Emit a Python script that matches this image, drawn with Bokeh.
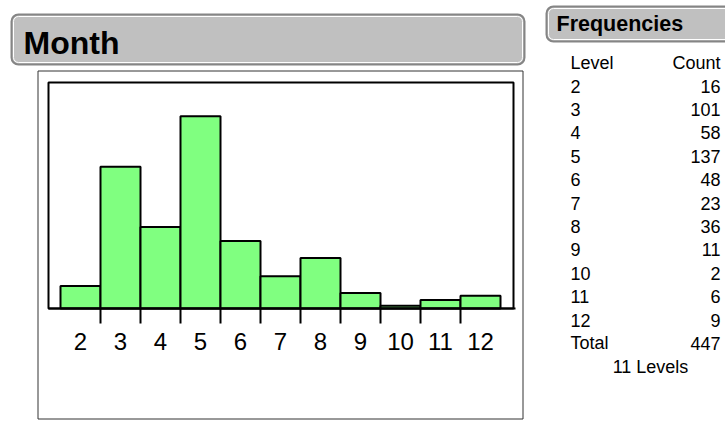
from bokeh.plotting import figure
from bokeh.models import BoxAnnotation, Label, FixedTicker, Range1d, ColumnDataSource, LinearAxis
from bokeh.embed import file_html
from bokeh.resources import INLINE

# ---- data ----
levels = [2, 3, 4, 5, 6, 7, 8, 9, 10, 11, 12]
counts = [16, 101, 58, 137, 48, 23, 36, 11, 2, 6, 9]
tick_labels = ["2", "3", "4", "5", "6", "7", "8", "9", "10", "11", "12"]
chart_title = "Month"
panel_title = "Frequencies"
col_headers = ["Level", "Count"]
total_label = "Total"

FONT = "Liberation Sans"
W, H = 725, 421
OX, OY = 0, 0          # page offset of the canvas

# histogram geometry (page px): 40 px per level, baseline at 308, ~1.404 px per count
PX_PER_LEVEL = 40.0
PX_PER_COUNT = 226.0 / 161.0
LEVEL2_PX = 80.0
BASE_PX = 308.0
x0 = levels[0] - (LEVEL2_PX - OX) / PX_PER_LEVEL
y0 = -(OY + H - BASE_PX) / PX_PER_COUNT
XLO, XHI, YHI = 1.2, 12.825, 161.0   # histogram box in data units


def sx(px):
    return px - OX


def sy(py):
    return OY + H - py


def ty(py, fs):
    # Label baseline correction (rendered text sits ~0.3 em lower)
    return sy(py - 0.3 * fs)


p = figure(width=W, height=H, output_backend="svg", toolbar_location=None, tools="",
           x_range=Range1d(x0, x0 + W / PX_PER_LEVEL),
           y_range=Range1d(y0, y0 + H / PX_PER_COUNT),
           min_border=0, x_axis_location=None, y_axis_location=None)
p.grid.visible = False
p.outline_line_color = None
p.background_fill_color = "white"
p.border_fill_color = "white"

# outer thin frame around the chart
p.add_layout(BoxAnnotation(left=sx(37.5), right=sx(522.5), top=sy(70.5), bottom=sy(418.5),
                           left_units="screen", right_units="screen",
                           top_units="screen", bottom_units="screen",
                           fill_alpha=0, line_color="#333333", line_alpha=1, line_width=1))

src = ColumnDataSource(dict(x=levels, top=counts))
p.vbar(x="x", top="top", bottom=0, width=1, source=src,
       fill_color="#80ff80", line_color="black", line_width=2)

# histogram box
p.add_layout(BoxAnnotation(left=XLO, right=XHI, bottom=0, top=YHI,
                           fill_alpha=0, line_color="black", line_alpha=1, line_width=2))

ax = LinearAxis(fixed_location=0, bounds=(XLO, XHI + 0.05))
ax.ticker = FixedTicker(ticks=levels, minor_ticks=[v + 0.5 for v in levels[:-1]])
ax.major_label_overrides = {v: s for v, s in zip(levels, tick_labels)}
ax.major_tick_line_color = None
ax.major_tick_out = 0
ax.major_tick_in = 0
ax.minor_tick_out = 15
ax.minor_tick_in = 0
ax.minor_tick_line_color = "black"
ax.minor_tick_line_width = 2
ax.axis_line_color = "black"
ax.axis_line_width = 2
ax.major_label_standoff = 9
ax.major_label_text_font = FONT
ax.major_label_text_font_size = "24px"
ax.major_label_text_color = "black"
p.add_layout(ax, "below")


# title bars
def header_box(a, b, c, d):
    p.add_layout(BoxAnnotation(left=sx(a), right=sx(b), top=sy(c), bottom=sy(d),
                               left_units="screen", right_units="screen",
                               top_units="screen", bottom_units="screen",
                               fill_color="#c0c0c0", fill_alpha=1,
                               line_color="#858585", line_alpha=1, line_width=2, border_radius=7))
    p.add_layout(BoxAnnotation(left=sx(a + 2), right=sx(b - 2), top=sy(c + 2), bottom=sy(d - 2),
                               left_units="screen", right_units="screen",
                               top_units="screen", bottom_units="screen",
                               fill_alpha=0, line_color="white", line_alpha=1, line_width=1,
                               border_radius=5))


header_box(11, 524, 14, 64)
header_box(546, 760, 6, 41)

p.add_layout(Label(x=sx(23), y=ty(52, 32), x_units="screen", y_units="screen", text=chart_title,
                   text_font=FONT, text_font_style="bold", text_font_size="32px",
                   text_baseline="alphabetic", text_align="left", text_color="black"))
p.add_layout(Label(x=sx(556), y=ty(30, 21.5), x_units="screen", y_units="screen", text=panel_title,
                   text_font=FONT, text_font_style="bold", text_font_size="21.5px",
                   text_baseline="alphabetic", text_align="left", text_color="black"))

# frequency table
TFS = 18
ROW0, DY = 67.5, 23.4
LX, RX = 570, 720
rows = [(col_headers[0], col_headers[1])] + [(s, str(c)) for s, c in zip(tick_labels, counts)] \
       + [(total_label, str(sum(counts)))]
for i, (a, b) in enumerate(rows):
    by = ROW0 + i * DY
    p.add_layout(Label(x=sx(LX), y=ty(by, TFS), x_units="screen", y_units="screen", text=a,
                       text_font=FONT, text_font_size=f"{TFS}px", text_baseline="alphabetic",
                       text_align="left", text_color="black"))
    p.add_layout(Label(x=sx(RX), y=ty(by, TFS), x_units="screen", y_units="screen", text=b,
                       text_font=FONT, text_font_size=f"{TFS}px", text_baseline="alphabetic",
                       text_align="right", text_color="black"))
p.add_layout(Label(x=sx(650), y=ty(ROW0 + len(rows) * DY, TFS), x_units="screen", y_units="screen",
                   text=f"{len(levels)} Levels",
                   text_font=FONT, text_font_size=f"{TFS}px", text_baseline="alphabetic",
                   text_align="center", text_color="black"))

open("out.html", "w").write(file_html(p, INLINE))
